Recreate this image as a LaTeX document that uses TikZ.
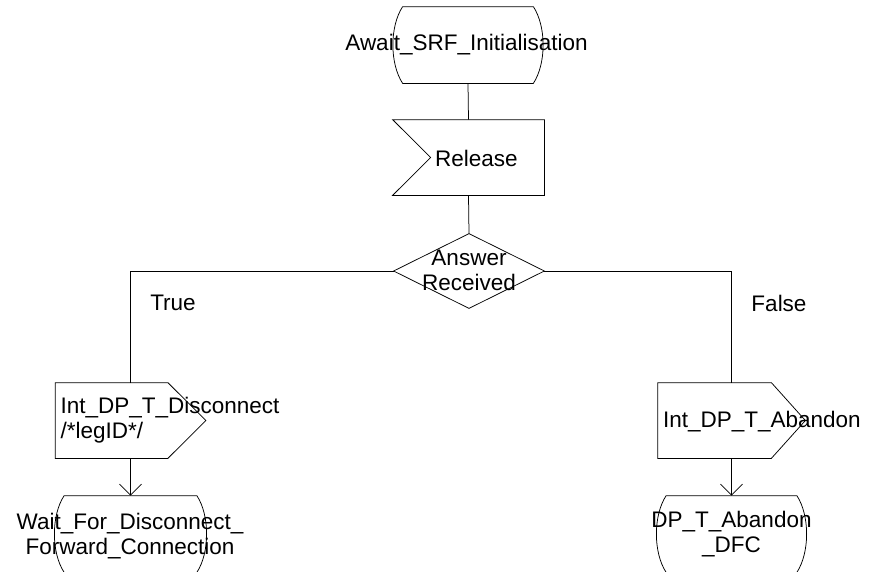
\documentclass[tikz,border=0pt]{standalone}
\usepackage{fontspec}
\setmainfont{Liberation Sans}
\usetikzlibrary{arrows.meta,calc}
\newcommand\sdlstate[1]{%
  \draw ($(#1.north west)+(10,0)$) -- ($(#1.north east)+(-10,0)$)
    .. controls ($(#1.north east)+(3,20)$) and ($(#1.south east)+(3,-20)$) .. ($(#1.south east)+(-10,0)$)
    -- ($(#1.south west)+(10,0)$)
    .. controls ($(#1.south west)+(-3,-20)$) and ($(#1.north west)+(-3,20)$) .. cycle;}
\begin{document}
\begin{tikzpicture}[x=1pt,y=-1pt,line width=0.75pt,
  lbl/.style={font=\fontsize{22.5}{25}\selectfont, inner sep=0pt, align=center},
  shp/.style={draw=none, inner sep=0pt, align=center},
  arr/.style={-{Straight Barb[length=11pt,width=22pt]}}]
\useasboundingbox (0,0) rectangle (871,571);
\clip (0,0) rectangle (871,571);
% shape nodes
\node[shp, minimum width=150pt, minimum height=76pt] (st1) at (468,45) {};
\node[shp, minimum width=151pt, minimum height=75pt] (rel) at (468.5,157.5) {};
\node[shp, minimum width=150pt, minimum height=74pt] (dec) at (469,271) {};
\node[shp, minimum width=150pt, minimum height=75pt] (out1) at (130.5,420.5) {};
\node[shp, minimum width=147pt, minimum height=75pt] (out2) at (731.5,420.5) {};
\node[shp, minimum width=152pt, minimum height=76pt] (st2) at (130.5,534) {};
\node[shp, minimum width=150pt, minimum height=76pt] (st3) at (731.5,534) {};
% texts
\node[lbl] (st1t) at (466.5,45) {Await\_SRF\_Initialisation};
\node[lbl] (relt) at (476.5,158) {Release};
\node[lbl] (dect) at (469,270) {Answer\\Received};
\node[lbl, anchor=west, align=left] (out1t) at ($(out1.west)+(5,0)$) {Int\_DP\_T\_Disconnect\\/*legID*/};
\node[lbl, anchor=west, align=left] (out2t) at ($(out2.west)+(5,1)$) {Int\_DP\_T\_Abandon};
\node[lbl] (st2t) at (130,536) {Wait\_For\_Disconnect\_\\Forward\_Connection};
\node[lbl] (st3t) at (731.5,534) {DP\_T\_Abandon\\\_DFC};
\node[lbl] (ltrue) at (173,303) {True};
\node[lbl] (lfalse) at (779,303) {False};
% shapes
\sdlstate{st1}
\sdlstate{st2}
\sdlstate{st3}
\draw (rel.north west) -- (rel.north east) -- (rel.south east) -- (rel.south west) -- ($(rel.west)+(38,0)$) -- cycle;
\draw (dec.north) -- (dec.east) -- (dec.south) -- (dec.west) -- cycle;
\draw (out1.north west) -- ($(out1.north east)+(-38,0)$) -- (out1.east) -- ($(out1.south east)+(-38,0)$) -- (out1.south west) -- cycle;
\draw (out2.north west) -- ($(out2.north east)+(-34,0)$) -- (out2.east) -- ($(out2.south east)+(-34,0)$) -- (out2.south west) -- cycle;
% connectors
\draw (st1.south) -- (rel.north);
\draw (rel.south) -- (dec.north);
\draw (dec.west) -| (out1.north);
\draw (dec.east) -| (out2.north);
\draw[arr] (out1.south) -- (st2.north);
\draw[arr] (out2.south) -- (st3.north);
\end{tikzpicture}
\end{document}
